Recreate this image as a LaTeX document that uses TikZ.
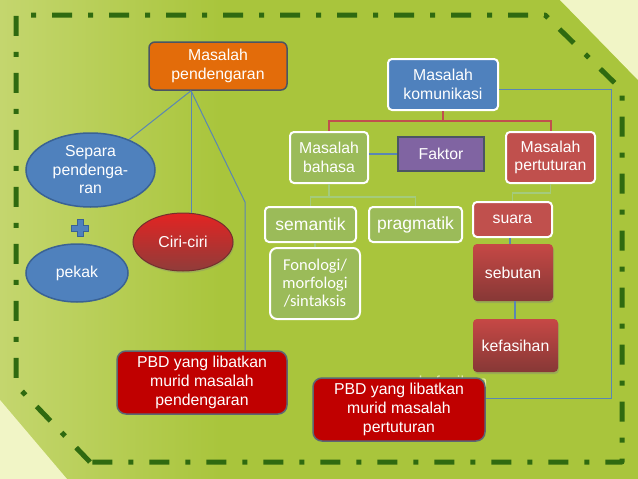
\documentclass[tikz,border=0pt]{standalone}
\usepackage{fontspec}
\setmainfont{Liberation Sans}
\newfontfamily\calib{Carlito}
\usetikzlibrary{shapes.geometric,shadows}
\definecolor{bgmain}{HTML}{A9C53C}
\definecolor{bgleft}{HTML}{C4D66E}
\definecolor{pale}{HTML}{F1F5C6}
\definecolor{bord}{HTML}{2F6A10}
\definecolor{orng}{HTML}{E36C0A}
\definecolor{blu}{HTML}{4F81BD}
\definecolor{dblu}{HTML}{3A6294}
\definecolor{grn}{HTML}{9BBB59}
\definecolor{purp}{HTML}{8064A2}
\definecolor{redd}{HTML}{C0504D}
\definecolor{dred}{HTML}{C00000}
\definecolor{lnk}{HTML}{5A86B4}
\definecolor{brn}{HTML}{C0504D}
\definecolor{fgrn}{HTML}{A4CB7C}
\definecolor{edge}{HTML}{4A5563}
\tikzset{
  txt/.style={text=white, font=\fontsize{15.8}{18.5}\selectfont, align=center, inner sep=0pt},
  wbox/.style={txt, rectangle, rounded corners=4pt, line width=2pt, draw=white},
  gbox/.style={wbox, fill=grn},
  rbox/.style={wbox, fill=redd},
  sbox/.style={txt, rectangle, rounded corners=4pt, draw=none,
     top color=redd!90!red, bottom color=redd!70!black,
     drop shadow={opacity=0.35, shadow xshift=1pt, shadow yshift=-2pt}},
  pbd/.style={txt, rectangle, rounded corners=9pt, fill=dred, draw=edge!90, line width=1.5pt,
     font=\fontsize{15.8}{19}\selectfont},
  ell/.style={txt, ellipse, fill=blu, draw=dblu, line width=1.5pt},
  lk/.style={lnk, line width=1pt},
  flk/.style={fgrn, line width=1.2pt},
}
\begin{document}
\begin{tikzpicture}[x=1pt,y=-1pt]
\useasboundingbox (0,0) rectangle (638,479);
% background
\fill[bgmain] (0,0) rectangle (638,479);
\shade[left color=bgleft, right color=bgmain] (0,0) rectangle (220,479);
\fill[pale] (560,0) -- (638,0) -- (638,80) -- cycle;
\fill[pale] (0,400) -- (0,479) -- (67,479) -- cycle;
% dashed frame
\draw[bord, line width=5pt, line join=round, dash pattern=on 20pt off 16pt on 5pt off 16pt]
  (90,462) -- (16,385) -- (16,15) -- (545,15) -- (622,90) -- (622,462) -- cycle;

% hidden text behind box
\node[font=\fontsize{16}{18}\selectfont, text=pale!80!bgmain, inner sep=0pt] (kefh) at (453,382) {kefasihan};

% nodes
\node[txt, rectangle, rounded corners=6pt, fill=orng, draw=edge, line width=1.5pt,
      minimum width=138pt, minimum height=48pt] (pend) at (218,66) {Masalah\\pendengaran};
\node[wbox, fill=blu, minimum width=110pt, minimum height=51pt] (kom) at (443,84.5) {Masalah\\komunikasi};
\node[gbox, minimum width=78pt, minimum height=51pt] (bah) at (329,157.5) {Masalah\\bahasa};
\node[txt, rectangle, fill=purp, draw=edge, line width=1.5pt, minimum width=86pt, minimum height=34pt] (fak) at (441,154) {Faktor};
\node[rbox, minimum width=89pt, minimum height=51pt] (pert) at (550.5,157.5) {Masalah\\pertuturan};
\node[gbox, minimum width=91pt, minimum height=35pt, font=\fontsize{17.5}{20}\selectfont] (sem) at (310.5,224.5) {semantik};
\node[gbox, minimum width=93pt, minimum height=35pt, font=\fontsize{17.5}{20}\selectfont] (prag) at (415.5,224.5) {pragmatik};
\node[gbox, rounded corners=7pt, minimum width=90pt, minimum height=71pt, font=\calib\fontsize{16.5}{18}\selectfont] (fon) at (315,283.5) {Fonologi/\\morfologi\\/sintaksis};
\node[rbox, minimum width=79pt, minimum height=35pt] (suara) at (512.5,219.5) {suara};
\node[sbox, minimum width=80pt, minimum height=57pt] (seb) at (513,272.5) {sebutan};
\node[sbox, minimum width=85pt, minimum height=53pt] (kef) at (515.5,345.5) {kefasihan};
\node[pbd, minimum width=172pt, minimum height=63pt] (pbdP) at (399,409.5) {PBD yang libatkan\\murid masalah\\pertuturan};
\node[pbd, minimum width=170pt, minimum height=63pt] (pbdD) at (202,382.5) {PBD yang libatkan\\murid masalah\\pendengaran};
\node[ell, minimum width=129pt, minimum height=74pt] (sep) at (90.5,170) {Separa\\pendenga-\\ran};
\node[ell, minimum width=102pt, minimum height=58pt] (pek) at (77,273) {pekak};
\node[txt, ellipse, top color=red!55!redd, bottom color=redd!75!black, draw=redd!60!black, line width=1pt,
      minimum width=100pt, minimum height=58pt,
      drop shadow={opacity=0.3, shadow xshift=1pt, shadow yshift=-2pt}] (ciri) at (183,242) {Ciri-ciri};
% plus sign
\filldraw[fill=blu, draw=dblu, line width=0.8pt]
  (77,219.5) -- (83,219.5) -- (83,225) -- (88.5,225) -- (88.5,231) -- (83,231) -- (83,236.5)
  -- (77,236.5) -- (77,231) -- (71.5,231) -- (71.5,225) -- (77,225) -- cycle;

% connectors
\coordinate (p0) at ([xshift=-27pt]pend.south);
\coordinate (bend1) at (245,202);
\draw[lk] (p0) -- (sep);
\draw[lk] (p0) -- (p0 |- ciri.north);
\draw[lk] (p0) -- (bend1) -- (bend1 |- pbdD.north);
\draw[brn, line width=2pt] (kom.south) -- ++(0,10) -| (bah.north);
\draw[brn, line width=2pt] (kom.south) -- ++(0,10) -| (pert.north);
\draw[lnk, line width=2pt] (bah.east |- fak.west) -- (fak.west);
\draw[flk] (bah.south) -- ++(0,13) -| (sem.north);
\draw[flk] (bah.south) -- ++(0,13) -| (prag.north);
\draw[flk] (fon.north) -- (fon.north |- sem.south);
\draw[flk] (pert.south) -- ++(0,9) -| (suara.north);
\draw[lnk, line width=2pt] (suara.south -| 510,0) -- (seb.north -| 510,0);
\draw[lnk, line width=2pt] (seb.south -| 515,0) -- (kef.north -| 515,0);
\coordinate (rc) at (611,398);
\draw[lk] ([yshift=-5pt]kom.east) -| (rc) -- (rc -| pbdP.east);
\end{tikzpicture}
\end{document}
